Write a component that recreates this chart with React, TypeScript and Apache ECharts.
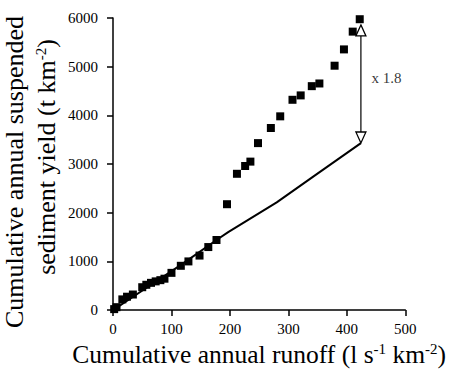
import React, { useEffect, useRef } from "react";
import * as echarts from "echarts";

// Cumulative annual runoff (x) vs cumulative annual suspended sediment yield (y)
const sedimentPoints: [number, number][] = [
  [2, 20], [6, 60], [16, 220], [24, 275], [34, 320], [50, 470], [57, 520],
  [65, 560], [73, 590], [81, 615], [88, 645], [100, 765], [116, 910],
  [129, 1000], [148, 1120], [163, 1295], [177, 1440],
  [195, 2175], [212, 2800], [226, 2960], [235, 3050], [248, 3430],
  [270, 3740], [286, 3980], [307, 4320], [321, 4410], [340, 4600],
  [353, 4655], [379, 5020], [395, 5355], [410, 5720], [422, 5975],
];

const trendLine: [number, number][] = [
  [0, 0], [60, 480], [120, 960], [177, 1440], [197, 1600],
  [280, 2213], [340, 2720], [424, 3430],
];

const arrowTop: [number, number] = [424, 5745];
const arrowBottom: [number, number] = [424, 3545];
const ratioLabelPos: [number, number] = [442, 4760];
const ratioLabel = "x 1.8";

const xMin = 0, xMax = 500, xStep = 100;
const yMin = 0, yMax = 6000, yStep = 1000;

const xTitle = "Cumulative annual runoff (l s{sup|-1} km{sup|-2})";
const yTitleLine1 = "Cumulative annual suspended";
const yTitleLine2 = "sediment yield (t km{sup|-2})";

const FONT = "'Liberation Serif', 'Times New Roman', serif";

export default function App() {
  const ref = useRef<HTMLDivElement>(null);
  useEffect(() => {
    if (!ref.current) return;
    const chart = echarts.init(ref.current, undefined, { renderer: "svg" });
    const axisCommon = {
      axisLine: { show: true, lineStyle: { color: "#000", width: 1.5 } },
      axisTick: { show: true, length: 6, lineStyle: { color: "#000", width: 1.5 } },
      splitLine: { show: false },
    };
    chart.setOption({
      animation: false,
      backgroundColor: "#fff",
      grid: { left: 113, right: 38, top: 18, bottom: 54 },
      xAxis: {
        type: "value",
        min: xMin,
        max: xMax,
        interval: xStep,
        ...axisCommon,
        axisLabel: { color: "#000", fontSize: 15, fontFamily: FONT, margin: 11, formatter: (v: number) => String(v) },
        name: xTitle,
        nameLocation: "middle",
        nameGap: 27,
        nameTextStyle: {
          color: "#000",
          fontSize: 25.5,
          fontFamily: FONT,
          rich: {
            sup: { fontSize: 15, fontFamily: FONT, color: "#000", verticalAlign: "top", padding: [0, 0, 8, 0] },
          },
        },
      },
      yAxis: {
        type: "value",
        min: yMin,
        max: yMax,
        interval: yStep,
        ...axisCommon,
        axisLabel: { color: "#000", fontSize: 15, fontFamily: FONT, margin: 15, formatter: (v: number) => String(v) },
      },
      graphic: [
        {
          type: "text",
          x: 14,
          y: 172,
          rotation: Math.PI / 2,
          style: {
            text: yTitleLine1,
            fontSize: 26,
            fontFamily: FONT,
            fill: "#000",
            align: "center",
            verticalAlign: "middle",
          },
        },
        {
          type: "text",
          x: 46,
          y: 157,
          rotation: Math.PI / 2,
          style: {
            text: yTitleLine2,
            fontSize: 26,
            fontFamily: FONT,
            fill: "#000",
            align: "center",
            verticalAlign: "middle",
            rich: {
              sup: { fontSize: 15, fontFamily: FONT, fill: "#000", verticalAlign: "top", padding: [0, 0, 8, 0] },
            },
          },
        },
      ],
      series: [
        {
          type: "line",
          data: trendLine,
          symbol: "none",
          lineStyle: { color: "#000", width: 2 },
          z: 2,
        },
        {
          type: "scatter",
          data: sedimentPoints,
          symbol: "rect",
          symbolSize: 8,
          itemStyle: { color: "#000", opacity: 1 },
          z: 3,
        },
        {
          type: "line",
          data: [
            { value: arrowTop, symbolRotate: 0 },
            { value: arrowBottom, symbolRotate: 180 },
          ],
          symbol: "triangle",
          symbolSize: [10, 11],
          showAllSymbol: true,
          lineStyle: { color: "#000", width: 1.2 },
          itemStyle: { color: "#fff", borderColor: "#000", borderWidth: 1.3 },
          z: 4,
        },
        {
          type: "scatter",
          data: [ratioLabelPos],
          symbolSize: 0,
          label: {
            show: true,
            formatter: ratioLabel,
            position: "right",
            distance: 0,
            color: "#000",
            fontSize: 15,
            fontFamily: FONT,
          },
          z: 5,
        },
      ],
    });
    return () => chart.dispose();
  }, []);
  return (
    <div
      ref={ref}
      style={{ position: "absolute", left: 0, top: 0, width: 449, height: 372 }}
    />
  );
}
